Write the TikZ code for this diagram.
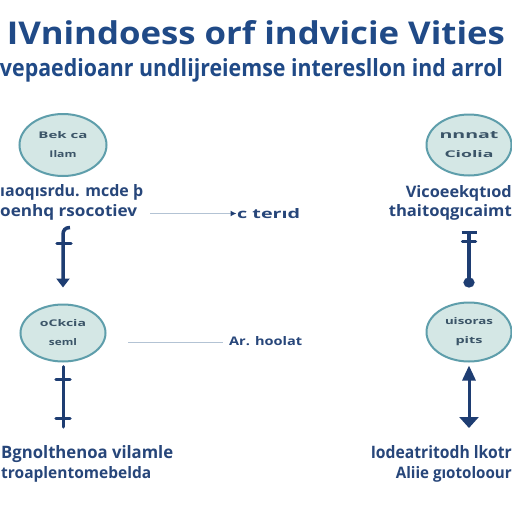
\documentclass[tikz,border=0pt]{standalone}
\usepackage{fontspec}
\setmainfont{Open Sans}
\usetikzlibrary{arrows.meta,shapes.geometric,calc}
\definecolor{titleblue}{HTML}{204A87}
\definecolor{navy}{HTML}{1E3D72}
\definecolor{labelblue}{HTML}{27467A}
\definecolor{ovaltext}{HTML}{3B5568}
\definecolor{ovalfill}{HTML}{D4E7E5}
\definecolor{ovalline}{HTML}{5E9EAB}
\definecolor{hline}{HTML}{B3C3D4}
\newcommand{\fitt}[3]{\resizebox{#1}{#2}{\bfseries #3}}
\begin{document}
\begin{tikzpicture}[x=1pt,y=-1pt,
  oval/.style={ellipse, draw=ovalline, fill=ovalfill, line width=2pt, inner sep=0pt,
    align=center, text=ovaltext, font=\fontsize{9}{19}\selectfont},
  txt/.style={inner sep=0pt, text=labelblue},
  lbl/.style={txt, font=\fontsize{10}{20}\selectfont},
  lblb/.style={txt, font=\fontsize{10}{19.5}\selectfont},
  navyline/.style={draw=navy, line width=3.5pt},
  crossbar/.style={draw=navy, line width=3.5pt, line cap=round},
  thinline/.style={draw=hline, line width=1.5pt}]

\fill[white] (0,0) rectangle (512,512);
\useasboundingbox (0,0) rectangle (512,512);

% title and subtitle
\node[txt, text=titleblue, anchor=base] (title) at (256,44)
  {\fitt{498pt}{24pt}{IVnindoess orf indvicie Vities}};
\node[txt, text=titleblue, anchor=base] (sub) at (251.5,76)
  {\fitt{503pt}{18pt}{vepaedioanr undlijreiemse interesllon ind arrol}};

% ovals
\node[oval, minimum width=87pt, minimum height=62pt] (e1) at (63,145)
  {\fitt{49pt}{7pt}{Bek ca}\\\fitt{27pt}{7pt}{Ilam}};
\node[oval, minimum width=85pt, minimum height=61pt] (e2) at (469,145)
  {\fitt{59pt}{7pt}{nnnat}\\\fitt{49pt}{7pt}{Ciolia}};
\node[oval, minimum width=85pt, minimum height=57pt] (e3) at (63,333)
  {\fitt{46pt}{7pt}{oCkcia}\\\fitt{28pt}{7pt}{seml}};
\node[oval, minimum width=85pt, minimum height=59pt] (e4) at (469,332)
  {\fitt{48pt}{7pt}{uisoras}\\\fitt{27pt}{7pt}{pits}};

% labels
\node[lbl, anchor=north west, align=left] (lbl1) at (0,184)
  {\fitt{143pt}{12pt}{ıaoqısrdu. mcde þ}\\\fitt{137pt}{12pt}{oenhq rsocotiev}};
\node[lblb, anchor=north east, align=right] (lbl2) at (512,185)
  {\fitt{106pt}{12pt}{Vicoeekqtıod}\\\fitt{123pt}{12pt}{thaitoqgıcaimt}};
\node[lbl, anchor=north west, align=left] (lbl3) at (1,445)
  {\fitt{172pt}{13pt}{Bgnolthenoa vilamle}\\\fitt{150pt}{12pt}{troaplentomebelda}};
\node[lbl, anchor=north east, align=right] (lbl4) at (512,445)
  {\fitt{141pt}{13pt}{Iodeatritodh lkotr}\\\fitt{116pt}{12pt}{Aliie gıotoloour}};

\node[txt, anchor=base west] (mid1) at (237,218) {\fitt{63pt}{10pt}{c terıd}};
\node[txt, anchor=base west] (mid2) at (229,345) {\fitt{73pt}{9pt}{Ar. hoolat}};

% horizontal connectors
\coordinate (h1s) at (150,213.5);
\draw[thinline, -{Latex[color=navy,length=6pt,width=6pt]}, shorten >=0.5pt]
  (h1s) -- (h1s -| mid1.west);
\coordinate (h2s) at (128,342.5);
\draw[thinline, shorten >=6pt] (h2s) -- (h2s -| mid2.west);

% top-left arrow (lbl1 -> e3)
\coordinate (a1t) at ($(e3.north)+(0,-69)$);
\coordinate (a1h) at ($(a1t)+(7,-7)$);
\draw[navyline, -{Triangle[width=13pt,length=9pt]}, shorten >=16pt]
  (a1h) .. controls +(-5,0) and +(0,-4) .. (a1t) -- (e3.north);
\draw[crossbar] ($(a1t)+(-6,9)$) -- ++(14,0);

% top-right arrow (lbl2 -> e4)
\coordinate (a2t) at ($(e4.north)+(0,-71)$);
\draw[navyline, {Bar[width=15pt]}-{Circle[width=11pt,length=10pt]}, shorten >=14pt]
  (a2t) -- (e4.north);
\draw[crossbar] ($(a2t)+(-6.5,11)$) -- ++(13,0);

% bottom-left connector (e3 -> lbl3)
\draw[navyline, line width=3pt, line cap=round, shorten <=4pt, shorten >=18pt]
  (e3.south) -- (e3.south |- lbl3.north);
\draw[crossbar] ($(e3.south)+(-7,17)$) -- ++(14,0);
\draw[crossbar] ($(e3.south)+(-7,56)$) -- ++(14,0);

% bottom-right double arrow (e4 <-> lbl4)
\draw[navyline, line width=3pt,
  {Triangle[width=13pt,length=15pt]}-{Triangle[width=19pt,length=11pt]},
  shorten <=3pt, shorten >=17pt]
  (e4.south) -- (e4.south |- lbl4.north);
\end{tikzpicture}
\end{document}
